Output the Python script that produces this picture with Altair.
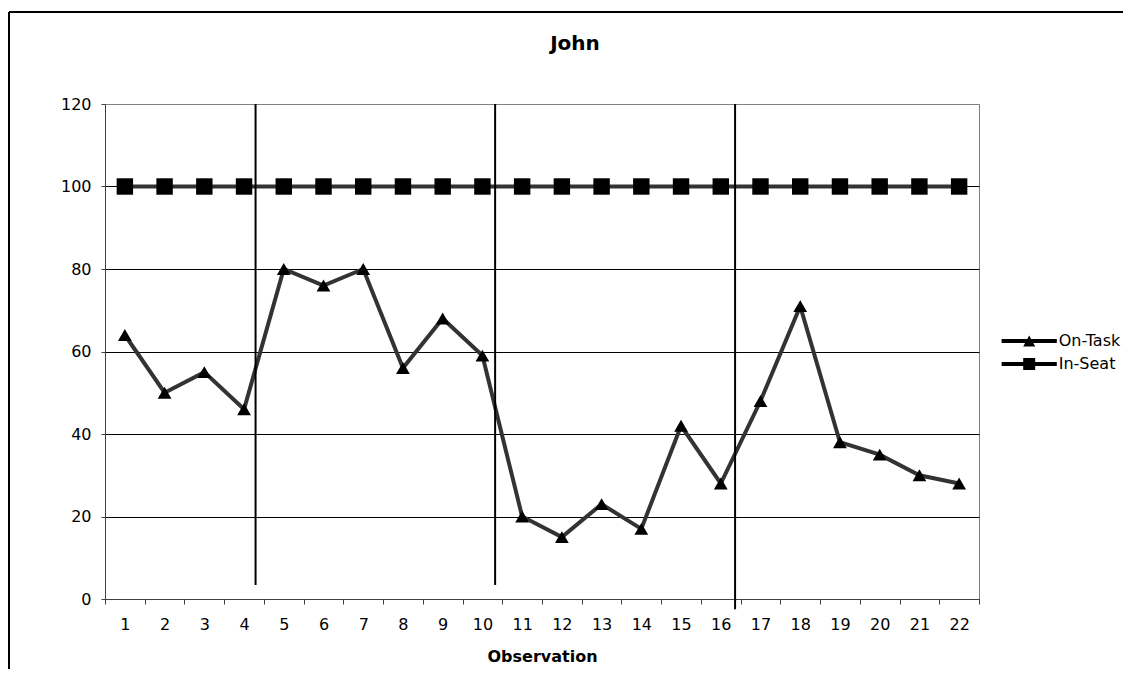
import altair as alt
import pandas as pd

# ---- data ----
observations = list(range(1, 23))
on_task = [64, 50, 55, 46, 80, 76, 80, 56, 68, 59, 20, 15, 23, 17, 42, 28, 48, 71, 38, 35, 30, 28]
in_seat = [100] * 22
series_names = ["On-Task", "In-Seat"]
y_ticks = [0, 20, 40, 60, 80, 100, 120]
phase_x = [4.29, 10.32, 16.36]
phase_top = [120, 120, 120]
phase_bottom = [3.4, 3.4, -2.5]
chart_title = "John"

FONT = "DejaVu Sans"

df = pd.DataFrame({
    "Observation": observations * 2,
    "Value": on_task + in_seat,
    "Series": ["On-Task"] * len(on_task) + ["In-Seat"] * len(in_seat),
})
phase_df = pd.DataFrame({"px": phase_x, "top": phase_top, "bottom": phase_bottom})
one = pd.DataFrame({"t": [chart_title]})

x_enc = alt.X(
    "Observation:O",
    bandPosition=0.5,
    scale=alt.Scale(type="band", paddingInner=0, paddingOuter=0),
    axis=alt.Axis(
        title="Observation", labelAngle=0, tickBand="extent", tickSize=5,
        labelPadding=12, titlePadding=16, grid=False,
        titleFont=FONT, titleFontSize=16, titleFontWeight="bold", titleColor="black",
    ),
)
y_enc = alt.Y(
    "Value:Q",
    scale=alt.Scale(domain=[0, 120], nice=False),
    axis=alt.Axis(
        title=None, values=y_ticks, grid=True, tickSize=4, labelPadding=10,
        gridColor=alt.condition("datum.value == 120", alt.value("#808080"), alt.value("black")),
        gridWidth=1,
    ),
)

base = alt.Chart(df)
lines = base.mark_line(color="#333333", strokeWidth=4).encode(x=x_enc, y=y_enc, detail="Series:N")
tri = base.transform_filter(alt.datum.Series == "On-Task").mark_point(
    shape="triangle-up", filled=True, color="black", size=190, opacity=1
).encode(x=x_enc, y=y_enc)
sq = base.transform_filter(alt.datum.Series == "In-Seat").mark_point(
    shape="square", filled=True, color="black", size=270, opacity=1
).encode(x=x_enc, y=y_enc)

# custom legend glyphs: a short line with the marker on it (unit = half symbol width)
path_tri = "M-4.6,-0.32H4.6V0.32H-4.6Z M0,-0.9L1,0.9L-1,0.9Z"
path_sq = "M-4.6,-0.32H4.6V0.32H-4.6Z M-1,-1H1V1H-1Z"
leg = base.mark_point(filled=True, color="black", opacity=0, size=144).encode(
    x=x_enc, y=y_enc,
    shape=alt.Shape(
        "Series:N",
        scale=alt.Scale(domain=series_names, range=[path_tri, path_sq]),
        legend=alt.Legend(
            title=None, orient="none", legendX=916.2, legendY=229,
            labelFont=FONT, labelFontSize=16, labelColor="black",
            symbolSize=144, symbolFillColor="black", symbolStrokeWidth=0,
            symbolOpacity=1, labelOffset=21.5, rowPadding=7, padding=0,
        ),
    ),
)

inner = alt.layer(lines, tri, sq, leg)

rules = alt.Chart(phase_df).mark_rule(color="black", strokeWidth=2).encode(
    x=alt.X("px:Q", scale=alt.Scale(domain=[0.5, 22.5], nice=False, zero=False), axis=None),
    y=alt.Y("top:Q", scale=alt.Scale(domain=[0, 120], nice=False), axis=None),
    y2="bottom:Q",
)

border_top = alt.Chart(one).mark_rule(color="black", strokeWidth=2).encode(
    x=alt.value(-96), x2=alt.value(1030), y=alt.value(-92), y2=alt.value(-92)
)
border_left = alt.Chart(one).mark_rule(color="black", strokeWidth=2).encode(
    x=alt.value(-96), x2=alt.value(-96), y=alt.value(-92), y2=alt.value(600)
)
title_txt = alt.Chart(one).mark_text(
    font=FONT, fontSize=20, fontWeight="bold", align="center", baseline="alphabetic", color="black"
).encode(text="t:N", x=alt.value(470), y=alt.value(-54))

chart = alt.layer(inner, rules, border_top, border_left, title_txt).resolve_scale(
    x="independent"
).resolve_axis(
    y="independent"
).properties(
    width=874, height=495,
    padding={"left": 97, "top": 96, "right": 144, "bottom": 70},
    autosize=alt.AutoSizeParams(type="none"),
    background="white",
).configure_view(
    stroke="#808080", strokeWidth=1
).configure_axis(
    labelFont=FONT, labelFontSize=16, labelColor="black",
    domainColor="#404040", tickColor="#404040",
)

chart.save("out.html", embed_options={"renderer": "svg", "actions": False})
